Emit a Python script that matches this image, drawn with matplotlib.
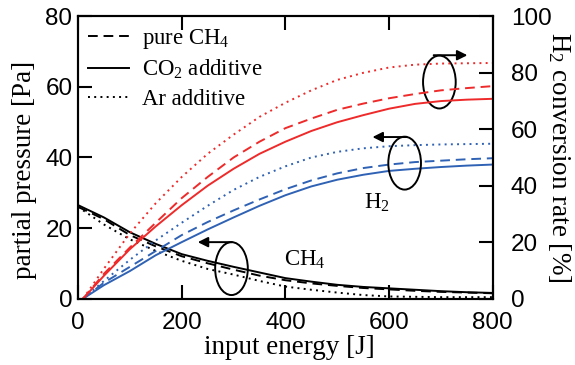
import matplotlib.pyplot as plt
from matplotlib.patches import Ellipse

plt.rcParams['font.family'] = 'Liberation Serif'
plt.rcParams['mathtext.fontset'] = 'custom'
plt.rcParams['mathtext.rm'] = 'Liberation Serif'
plt.rcParams['mathtext.it'] = 'Liberation Serif:italic'

# energia de entrada [J]
energia = [0, 50, 100, 150, 200, 250, 300, 350, 400, 450, 500, 550, 600, 650, 700, 750, 800]
energia_h2 = [10, 50, 100, 150, 200, 250, 300, 350, 400, 450, 500, 550, 600, 650, 700, 750, 800]

# presion parcial CH4 [Pa]
ch4_puro = [26.0, 22.5, 18.0, 14.8, 12.0, 10.0, 8.2, 6.5, 5.2, 4.3, 3.6, 3.0, 2.6, 2.2, 1.9, 1.7, 1.5]
ch4_co2 = [26.5, 23.0, 18.8, 15.5, 12.6, 10.7, 9.0, 7.4, 5.8, 4.8, 3.9, 3.3, 2.9, 2.5, 2.1, 1.8, 1.6]
ch4_ar = [26.0, 21.0, 16.8, 13.5, 10.7, 8.4, 6.8, 5.0, 3.4, 2.5, 1.7, 1.0, 0.6, 0.5, 0.4, 0.4, 0.4]

# presion parcial H2 [Pa]
h2_puro = [0, 4.5, 9.0, 13.5, 18.0, 21.7, 25.0, 28.1, 31.0, 33.5, 35.5, 37.0, 38.0, 38.7, 39.1, 39.5, 39.8]
h2_co2 = [0, 3.8, 7.8, 12.3, 16.0, 19.6, 23.0, 26.3, 29.3, 31.8, 33.7, 35.1, 36.2, 36.8, 37.3, 37.7, 38.0]
h2_ar = [0, 5.0, 11.0, 16.5, 21.5, 26.3, 30.8, 34.5, 37.5, 40.0, 41.6, 42.6, 43.2, 43.5, 43.7, 43.8, 43.9]

# tasa de conversion H2 [%]
conv_puro = [0, 8.8, 18.1, 26.9, 35.6, 43.1, 50.0, 55.6, 60.4, 63.8, 66.9, 69.1, 71.0, 72.5, 73.8, 74.6, 75.3]
conv_co2 = [0, 8.1, 17.5, 25.6, 33.1, 40.0, 46.0, 51.3, 55.6, 59.4, 62.5, 65.0, 67.3, 69.0, 70.0, 70.5, 70.8]
conv_ar = [0, 10.6, 23.1, 33.8, 43.1, 51.3, 58.1, 64.4, 69.4, 73.8, 77.5, 80.0, 81.9, 82.9, 83.3, 83.4, 83.5]

rojo = '#ee2a2a'
azul = '#2f62b4'
lw = 1.4
guion = (0, (5, 3))
punto = (0, (1, 2.2))

fig = plt.figure(figsize=(5.75, 3.65), dpi=100)
ax1 = fig.add_axes([0.1357, 0.182, 0.7213, 0.773])
ax2 = ax1.twinx()

# CH4 y H2 (eje izquierdo)
ax1.plot(energia, ch4_puro, color='k', lw=lw, ls=guion, label='pure CH$_4$')
ax1.plot(energia, ch4_co2, color='k', lw=lw, ls='-', label='CO$_2$ additive')
ax1.plot(energia, ch4_ar, color='k', lw=lw, ls=punto, label='Ar additive')
ax1.plot(energia_h2, h2_puro, color=azul, lw=lw, ls=guion)
ax1.plot(energia_h2, h2_co2, color=azul, lw=lw, ls='-')
ax1.plot(energia_h2, h2_ar, color=azul, lw=lw, ls=punto)
# conversion (eje derecho)
ax2.plot(energia_h2, conv_puro, color=rojo, lw=lw, ls=guion)
ax2.plot(energia_h2, conv_co2, color=rojo, lw=lw, ls='-')
ax2.plot(energia_h2, conv_ar, color=rojo, lw=lw, ls=punto)

ax1.set_xlim(0, 800)
ax1.set_ylim(0, 80)
ax2.set_ylim(0, 100)
ax1.set_xticks([0, 200, 400, 600, 800])
ax1.set_yticks([0, 20, 40, 60, 80])
ax2.set_yticks([0, 20, 40, 60, 80, 100])

for ax in (ax1, ax2):
    for s in ax.spines.values():
        s.set_linewidth(1.5)
    for lab in ax.get_xticklabels() + ax.get_yticklabels():
        lab.set_family('Liberation Sans')
ax1.tick_params(direction='in', length=10, width=1.5, labelsize=17.5, top=True, right=False)
ax1.tick_params(axis='x', pad=10)
ax1.tick_params(axis='y', pad=4)
ax2.tick_params(direction='in', length=10, width=1.5, labelsize=17.5, pad=13)

ax1.set_xlabel('input energy [J]', fontsize=19.5)
ax1.set_ylabel('partial pressure [Pa]', fontsize=19.5)
ax2.set_ylabel('H$_2$ conversion rate [%]', fontsize=19.5, rotation=270, va='center')
ax1.xaxis.set_label_coords(0.51, -0.13)
ax1.yaxis.set_label_coords(-0.1, 0.455)
ax2.yaxis.set_label_coords(1.16, 0.5)

leg = ax1.legend(loc='upper left', frameon=False, fontsize=16.4, handlelength=1.8,
                 handletextpad=0.55, labelspacing=0.33, borderaxespad=0.15, borderpad=0.3)

# elipses y flechas
for (cx, cy, x0, x1, yy) in [(697, 61.4, 686, 751, 69.0),
                             (630, 38.4, 634, 568, 45.8),
                             (296, 8.5, 297, 231, 16.0)]:
    ax1.add_patch(Ellipse((cx, cy), 63, 15, fill=False, lw=1.4, color='k', zorder=5))
    ax1.annotate('', xy=(x1, yy), xytext=(x0, yy),
                 arrowprops=dict(arrowstyle='-|>', color='k', lw=1.4, mutation_scale=15,
                                 shrinkA=0, shrinkB=0))

ax1.text(576, 27, 'H$_2$', fontsize=16.5, ha='center', va='center')
ax1.text(437, 11, 'CH$_4$', fontsize=16.5, ha='center', va='center')

fig.savefig('out.png', dpi=100)
